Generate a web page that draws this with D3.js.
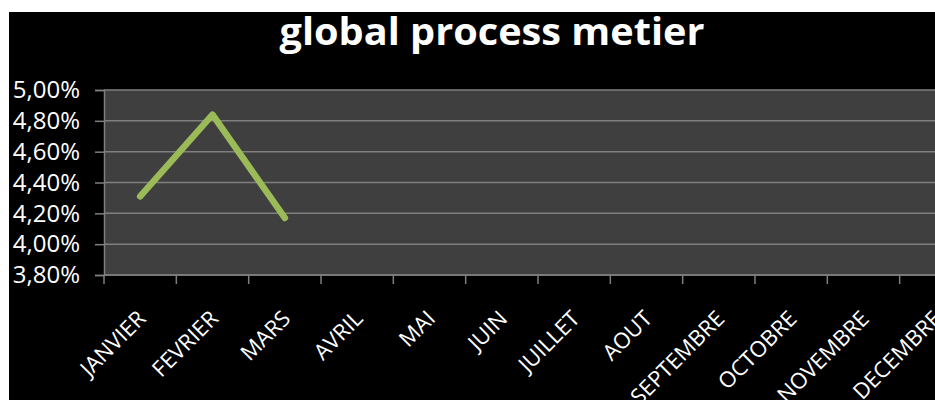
<!DOCTYPE html>
<html>
<head>
<meta charset="utf-8">
<script src="https://cdn.jsdelivr.net/npm/d3@7"></script>
<style>
  html, body { margin: 0; padding: 0; background: #ffffff; }
  svg { display: block; }
  .axis text { fill: #ffffff; font-family: "Open Sans", Lato, sans-serif; }
</style>
</head>
<body>
<div id="chart"></div>
<script>
// chart values
var months = ["JANVIER", "FEVRIER", "MARS", "AVRIL", "MAI", "JUIN",
              "JUILLET", "AOUT", "SEPTEMBRE", "OCTOBRE", "NOVEMBRE", "DECEMBRE"];
var rates = [4.31, 4.84, 4.17];   // percent, only first three months filled
var yTicks = [3.8, 4.0, 4.2, 4.4, 4.6, 4.8, 5.0];
var chartTitle = "global process metier";

var width = 935,
    height = 400;

// plot area (runs past the right edge, as in the original)
var plot = { left: 104, top: 90, right: 972, bottom: 275 };

var svg = d3.select("#chart").append("svg")
    .attr("width", width)
    .attr("height", height);

// black chart background
svg.append("rect")
    .attr("x", 9).attr("y", 12)
    .attr("width", width - 9).attr("height", height - 12)
    .attr("fill", "#000000");

svg.append("text")
    .attr("x", 492)
    .attr("y", 45)
    .attr("text-anchor", "middle")
    .attr("fill", "#ffffff")
    .attr("textLength", 425)
    .attr("lengthAdjust", "spacingAndGlyphs")
    .style("font-family", "'Open Sans', Lato, sans-serif")
    .style("font-weight", "bold")
    .style("font-size", "38px")
    .text(chartTitle);

var x = d3.scaleBand()
    .domain(months)
    .range([plot.left, plot.right]);

var y = d3.scaleLinear()
    .domain([3.8, 5.0])
    .range([plot.bottom, plot.top]);

svg.append("rect")
    .attr("x", plot.left).attr("y", plot.top)
    .attr("width", plot.right - plot.left)
    .attr("height", plot.bottom - plot.top)
    .attr("fill", "#3f3f3f");

// gridlines
svg.append("g")
    .selectAll("line")
    .data(yTicks)
    .enter().append("line")
    .attr("x1", plot.left).attr("x2", plot.right)
    .attr("y1", function(d) { return y(d); })
    .attr("y2", function(d) { return y(d); })
    .attr("stroke", "#7f7f7f")
    .attr("stroke-width", 1.5);

// y axis
var yAxis = d3.axisLeft(y)
    .tickValues(yTicks)
    .tickSize(9)
    .tickPadding(15)
    .tickFormat(function(d) { return d.toFixed(2).replace(".", ",") + "%"; });

var gy = svg.append("g")
    .attr("class", "axis")
    .attr("transform", "translate(" + plot.left + ",0)")
    .call(yAxis);
gy.select(".domain").attr("stroke", "#7f7f7f").attr("stroke-width", 1.5);
gy.selectAll(".tick line").attr("stroke", "#7f7f7f").attr("stroke-width", 1.5);
gy.selectAll("text").style("font-size", "24px");

// x axis: ticks sit on band edges
var edges = months.map(function(m) { return x(m); }).concat([plot.right]);
var gx = svg.append("g")
    .attr("class", "axis");
gx.append("line")
    .attr("x1", plot.left).attr("x2", plot.right)
    .attr("y1", plot.bottom).attr("y2", plot.bottom)
    .attr("stroke", "#7f7f7f").attr("stroke-width", 1.5);
gx.selectAll(".edge")
    .data(edges)
    .enter().append("line")
    .attr("class", "edge")
    .attr("x1", function(d) { return d; }).attr("x2", function(d) { return d; })
    .attr("y1", plot.bottom).attr("y2", plot.bottom + 9)
    .attr("stroke", "#7f7f7f").attr("stroke-width", 1.5);
gx.selectAll(".lbl")
    .data(months)
    .enter().append("text")
    .attr("class", "lbl")
    .attr("text-anchor", "end")
    .style("font-size", "22px")
    .attr("transform", function(d) {
        var cx = x(d) + x.bandwidth() / 2 + 7;
        return "translate(" + cx + "," + (plot.bottom + 45) + ") rotate(-45)";
    })
    .text(function(d) { return d; });

// series line
var line = d3.line()
    .x(function(d, i) { return x(months[i]) + x.bandwidth() / 2; })
    .y(function(d) { return y(d); });

svg.append("path")
    .datum(rates)
    .attr("d", line)
    .attr("fill", "none")
    .attr("stroke", "#9bbb59")
    .attr("stroke-width", 6.5)
    .attr("stroke-linecap", "round")
    .attr("stroke-linejoin", "round");
</script>
</body>
</html>
